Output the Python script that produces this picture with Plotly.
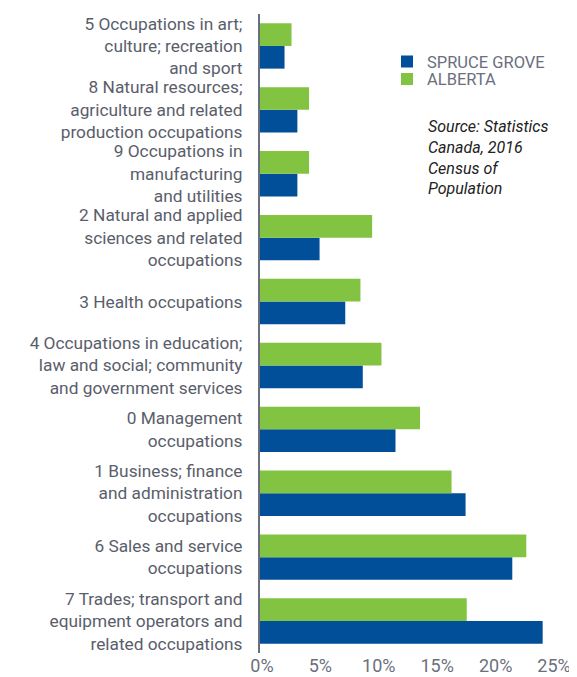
import plotly.graph_objects as go

categories = [
    "7 Trades; transport and<br>equipment operators and<br>related occupations",
    "6 Sales and service<br>occupations",
    "1 Business; finance<br>and administration<br>occupations",
    "0 Management<br>occupations",
    "4 Occupations in education;<br>law and social; community<br>and government services",
    "3 Health occupations",
    "2 Natural and applied<br>sciences and related<br>occupations",
    "9 Occupations in<br>manufacturing<br>and utilities",
    "8 Natural resources;<br>agriculture and related<br>production occupations",
    "5 Occupations in art;<br>culture; recreation<br>and sport",
]
spruce_grove = [24.2, 21.6, 17.6, 11.6, 8.8, 7.3, 5.1, 3.2, 3.2, 2.1]
alberta = [17.7, 22.8, 16.4, 13.7, 10.4, 8.6, 9.6, 4.2, 4.2, 2.7]
x_ticks = [0, 5, 10, 15, 20, 25]
x_tick_labels = ["0%", "5%", "10%", "15%", "20%", "25%"]

BLUE = "#004f98"
GREEN = "#82c341"
GRAY = "#5a5e6b"
LIGHTGRAY = "#6b6f7d"

# page body has an 8px margin; figure sized so the plot area lands at x 260-552, y 14-653
W, H = 569, 669
ML, MR, MT, MB = 252, 25, 6, 24
PH = H - MT - MB  # 639


def py(page_y):
    return (653 - page_y) / PH


def px(page_x):
    return (page_x - 260) / 292


fig = go.Figure()
fig.add_trace(go.Bar(y=categories, x=spruce_grove, orientation="h", name="SPRUCE GROVE",
                     marker=dict(color=BLUE, line=dict(width=0)), hoverinfo="x+y",
                     legend="legend"))
fig.add_trace(go.Bar(y=categories, x=alberta, orientation="h", name="ALBERTA",
                     marker=dict(color=GREEN, line=dict(width=0)), hoverinfo="x+y",
                     legend="legend2"))

legend_common = dict(xanchor="left", yanchor="middle",
                     font=dict(family="Roboto", size=16.5, color=LIGHTGRAY),
                     bgcolor="rgba(0,0,0,0)", borderwidth=0)

fig.update_layout(
    width=W, height=H,
    margin=dict(l=ML, r=MR, t=MT, b=MB, autoexpand=False),
    paper_bgcolor="white", plot_bgcolor="white",
    barmode="group", bargap=0.29, bargroupgap=0,
    font=dict(family="Roboto", color=GRAY, size=17),
    showlegend=True,
    legend=dict(x=px(387), y=py(61.7), **legend_common),
    legend2=dict(x=px(387), y=py(79.3), **legend_common),
    xaxis=dict(range=[0, 25], tickvals=x_ticks, ticktext=x_tick_labels,
               showgrid=False, zeroline=False, showline=False, automargin=False,
               tickfont=dict(family="Roboto", size=18, color=LIGHTGRAY), ticks="",
               ticklabelshift=2, ticklabelstandoff=0),
    yaxis=dict(type="category", showgrid=False, zeroline=False, showline=True,
               automargin=False,
               linecolor=LIGHTGRAY, linewidth=2, ticks="", ticklabelstandoff=12,
               tickfont=dict(family="Roboto", size=17.3, color=GRAY)),
)

fig.add_annotation(
    xref="paper", yref="paper", x=px(426), y=py(115),
    xanchor="left", yanchor="top",
    text="Source: Statistics<br>Canada, 2016<br>Census of<br>Population",
    showarrow=False, align="left",
    font=dict(family="Roboto", size=16, color="#222222", style="italic"),
)

fig.write_html("out.html")
